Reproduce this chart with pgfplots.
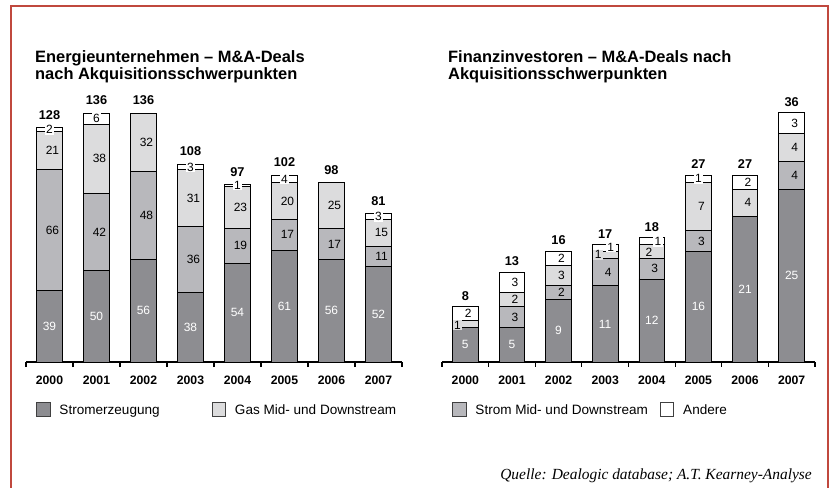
\documentclass[border=0pt]{standalone}
\usepackage{pgfplots}
\pgfplotsset{compat=1.18}
\usepackage{fontspec}
\setmainfont{Liberation Sans}
\newfontfamily\srcfont{Liberation Serif}
\definecolor{cDark}{RGB}{141,141,145}
\definecolor{cMid}{RGB}{184,184,188}
\definecolor{cLight}{RGB}{220,220,221}
\definecolor{cWhite}{RGB}{255,255,255}
\definecolor{frameRed}{RGB}{192,72,62}
\tikzset{
  wlab/.style={font=\fontsize{12}{12}\selectfont, text=white, inner sep=0pt},
  blab/.style={font=\fontsize{12}{12}\selectfont, text=black, inner sep=0pt, xshift=3bp},
  boxlab/.style={font=\fontsize{12}{12}\selectfont, text=black, fill=white, inner xsep=1.5bp, inner ysep=1bp},
  tot/.style={font=\bfseries\fontsize{12.8}{13}\selectfont, anchor=south, inner sep=0pt},
}
\newcommand{\W}[3]{\node[wlab] at (axis cs:#1,#2) {#3};}
\newcommand{\B}[3]{\node[blab] at (axis cs:#1,#2) {#3};}
\newcommand{\X}[3]{\node[boxlab] at (axis cs:#1,#2) {#3};}
\pgfplotsset{
  mybars/.style={
    scale only axis, anchor=south west,
    xmin=-0.5, xmax=7.5, ymin=0,
    ybar stacked, bar width=0.55, reverse stacked plots=false,
    axis x line*=bottom, axis y line=none, ytick=\empty,
    xtick={0,...,7},
    xticklabels={\textbf{2000},\textbf{2001},\textbf{2002},\textbf{2003},\textbf{2004},\textbf{2005},\textbf{2006},\textbf{2007}},
    major tick length=0pt,
    minor xtick={-0.5,0.5,...,7.5}, minor tick length=5bp, tick align=outside,
    every minor tick/.style={line width=1.2bp, black},
    xticklabel style={font=\bfseries\fontsize{12.3}{12}\selectfont, yshift=-14bp, inner sep=0pt},
    axis line style={line width=1.2bp, black},
    clip=false,
    every axis plot/.append style={draw=black, line width=0.8bp, forget plot},
    legend columns=2,
    legend image code/.code={\draw[#1, line width=0.8bp] (0bp,-6.75bp) rectangle (13.5bp,6.75bp);},
    legend style={draw=none, fill=none, anchor=west, inner sep=0pt,
      font=\fontsize{13.6}{14}\selectfont,
      nodes={inner sep=0pt, text depth=0pt},
      /tikz/every odd column/.append style={column sep=9bp}},
  },
}
\begin{document}
\begin{tikzpicture}
\useasboundingbox (0,0) rectangle (832bp,488bp);
\draw[frameRed, line width=2bp] (11bp,0bp) -- (11bp,482bp) -- (828bp,482bp) -- (828bp,0bp);

% Titles
\node[anchor=base west, inner sep=0pt, font=\bfseries\fontsize{16.5}{17}\selectfont] at (35bp,425.3bp) {Energieunternehmen – M\&A-Deals};
\node[anchor=base west, inner sep=0pt, font=\bfseries\fontsize{16.5}{17}\selectfont] at (35bp,408bp) {nach Akquisitionsschwerpunkten};
\node[anchor=base west, inner sep=0pt, font=\bfseries\fontsize{16.5}{17}\selectfont] at (448bp,425.3bp) {Finanzinvestoren – M\&A-Deals nach};
\node[anchor=base west, inner sep=0pt, font=\bfseries\fontsize{16.5}{17}\selectfont] at (448bp,408bp) {Akquisitionsschwerpunkten};

% Left chart
\begin{axis}[mybars, at={(26bp,126bp)}, width=376bp, height=274.6bp, ymax=150,
  legend style={at={(0.0266,-0.173)}, /tikz/every even column/.append style={column sep=52bp}}]
\addplot[fill=cDark] coordinates {(0,39) (1,50) (2,56) (3,38) (4,54) (5,61) (6,56) (7,52)};
\addplot[fill=cMid] coordinates {(0,66) (1,42) (2,48) (3,36) (4,19) (5,17) (6,17) (7,11)};
\addplot[fill=cLight] coordinates {(0,21) (1,38) (2,32) (3,31) (4,23) (5,20) (6,25) (7,15)};
\addplot[fill=cWhite] coordinates {(0,2) (1,6) (2,0) (3,3) (4,1) (5,4) (6,0) (7,3)};
\addlegendimage{fill=cDark, draw=black!75}
\addlegendentry{Stromerzeugung}
\addlegendimage{fill=cLight, draw=black!75}
\addlegendentry{Gas Mid- und Downstream}
\W{0}{19.5}{39}\W{1}{25}{50}\W{2}{28}{56}\W{3}{19}{38}\W{4}{27}{54}\W{5}{30.5}{61}\W{6}{28}{56}\W{7}{26}{52}
\B{0}{72}{66}\B{1}{71}{42}\B{2}{80}{48}\B{3}{56}{36}\B{4}{63.5}{19}\B{5}{69.5}{17}\B{6}{64.5}{17}\B{7}{57.5}{11}
\B{0}{115.5}{21}\B{1}{111}{38}\B{2}{120}{32}\B{3}{89.5}{31}\B{4}{84.5}{23}\B{5}{88}{20}\B{6}{85.5}{25}\B{7}{70.5}{15}
\X{0}{127}{2}\X{1}{133}{6}\X{3}{106.5}{3}\X{4}{96.5}{1}\X{5}{100}{4}\X{7}{79.5}{3}
\node[tot, yshift=8bp] at (axis cs:0,128) {128};
\node[tot, yshift=8bp] at (axis cs:1,136) {136};
\node[tot, yshift=8bp] at (axis cs:2,136) {136};
\node[tot, yshift=8bp] at (axis cs:3,108) {108};
\node[tot, yshift=8bp] at (axis cs:4,97) {97};
\node[tot, yshift=8bp] at (axis cs:5,102) {102};
\node[tot, yshift=8bp] at (axis cs:6,98) {98};
\node[tot, yshift=8bp] at (axis cs:7,81) {81};
\end{axis}

% Right chart
\begin{axis}[mybars, at={(442bp,126bp)}, width=373bp, height=276.8bp, ymax=40,
  legend style={at={(0.0268,-0.1716)}, /tikz/every even column/.append style={column sep=12bp}}]
\addplot[fill=cDark] coordinates {(0,5) (1,5) (2,9) (3,11) (4,12) (5,16) (6,21) (7,25)};
\addplot[fill=cMid] coordinates {(0,0) (1,3) (2,2) (3,4) (4,3) (5,3) (6,0) (7,4)};
\addplot[fill=cLight] coordinates {(0,1) (1,2) (2,3) (3,1) (4,2) (5,7) (6,4) (7,4)};
\addplot[fill=cWhite] coordinates {(0,2) (1,3) (2,2) (3,1) (4,1) (5,1) (6,2) (7,3)};
\addlegendimage{fill=cMid, draw=black!75}
\addlegendentry{Strom Mid- und Downstream}
\addlegendimage{fill=cWhite, draw=black!75}
\addlegendentry{Andere}
\W{0}{2.5}{5}\W{1}{2.5}{5}\W{2}{4.5}{9}\W{3}{5.5}{11}\W{4}{6}{12}\W{5}{8}{16}\W{6}{10.5}{21}\W{7}{12.5}{25}
\B{1}{6.5}{3}\B{2}{10}{2}\B{3}{13}{4}\B{4}{13.5}{3}\B{5}{17.5}{3}\B{7}{27}{4}
\B{1}{9}{2}\B{2}{12.5}{3}\B{5}{22.5}{7}\B{6}{23}{4}\B{7}{31}{4}
\B{0}{7.1}{2}\B{1}{11.5}{3}\B{2}{15}{2}\B{6}{26}{2}\B{7}{34.5}{3}
\node[boxlab, fill=cLight] at (axis cs:-0.17,5.35) {1};
\node[boxlab, fill=cLight] at (axis cs:2.85,15.5) {1};
\node[boxlab] at (axis cs:3.12,16.6) {1};
\node[boxlab, fill=cLight] at (axis cs:3.94,15.9) {2};
\node[boxlab] at (axis cs:4.13,17.4) {1};
\node[boxlab] at (axis cs:5,26.5) {1};
\node[tot, yshift=6bp] at (axis cs:0,8) {8};
\node[tot, yshift=6bp] at (axis cs:1,13) {13};
\node[tot, yshift=6bp] at (axis cs:2,16) {16};
\node[tot, yshift=6bp] at (axis cs:3,17) {17};
\node[tot, yshift=6bp] at (axis cs:4,18) {18};
\node[tot, yshift=6bp] at (axis cs:5,27) {27};
\node[tot, yshift=6bp] at (axis cs:6,27) {27};
\node[tot, yshift=6bp] at (axis cs:7,36) {36};
\end{axis}

\node[anchor=base east, inner sep=0pt, font=\srcfont\itshape\fontsize{15.5}{16}\selectfont] at (812bp,9bp) {Quelle: Dealogic database; A.T. Kearney-Analyse};
\end{tikzpicture}
\end{document}
